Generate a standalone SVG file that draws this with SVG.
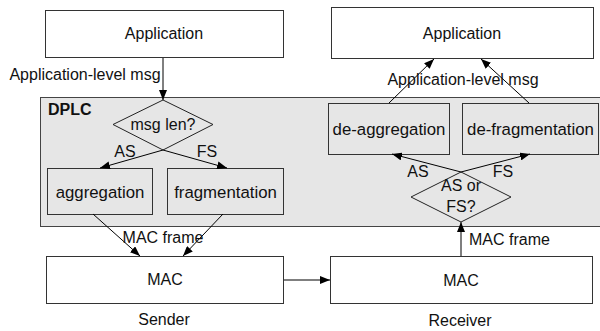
<svg xmlns="http://www.w3.org/2000/svg" width="600" height="331" viewBox="0 0 600 331">
<defs>
<marker id="ah" viewBox="0 0 10 8" refX="10" refY="4" markerWidth="10" markerHeight="8" markerUnits="userSpaceOnUse" orient="auto">
<path d="M0,0 L10,4 L0,8 Z" fill="#000"/>
</marker>
</defs>
<style>
text{font-family:"Liberation Sans",Arial,sans-serif;font-size:16px;fill:#111}
.c{text-anchor:middle}
.ib{font-size:16.8px}
.box{fill:#fff;stroke:#333;stroke-width:1}
.ibox{fill:#e6e6e6;stroke:#333;stroke-width:1}
.dia{fill:#e6e6e6;stroke:#222;stroke-width:1}
.ln{stroke:#000;stroke-width:1;fill:none;marker-end:url(#ah)}
.ln2{stroke:#555;stroke-width:1.5;fill:none;marker-end:url(#ah)}
</style>
<rect width="600" height="331" fill="#fff"/>
<g id="dplc">
<rect x="40.5" y="97.5" width="560" height="129" fill="#e6e6e6" stroke="#444" stroke-width="1"/>
<text x="48" y="115" style="font-weight:bold">DPLC</text>
</g>
<g id="app-sender"><rect class="box" x="45.5" y="10.5" width="238" height="47"/><text class="c" x="164" y="39">Application</text></g>
<g id="app-receiver"><rect class="box" x="331.5" y="7.5" width="262" height="51"/><text class="c" x="462" y="39">Application</text></g>
<g id="msglen"><path class="dia" d="M163,100 L213,124.5 L163,150 L113,124.5 Z"/><text class="c" x="163" y="130">msg len?</text></g>
<g id="aggregation"><rect class="ibox" x="47.5" y="168.5" width="105" height="46"/><text class="c ib" x="100" y="198">aggregation</text></g>
<g id="fragmentation"><rect class="ibox" x="167.5" y="168.5" width="116" height="46"/><text class="c ib" x="225.5" y="198">fragmentation</text></g>
<g id="deaggregation"><rect class="ibox" x="328.5" y="103.5" width="121" height="51"/><text class="c ib" x="389" y="135">de-aggregation</text></g>
<g id="defragmentation"><rect class="ibox" x="462.5" y="103.5" width="136" height="51"/><text class="c ib" x="530.5" y="135">de-fragmentation</text></g>
<g id="asfs"><path class="dia" d="M461,172 L511,197 L461,222 L411,197 Z"/><text class="c" x="461" y="191">AS or</text><text class="c" x="461" y="212">FS?</text></g>
<g id="mac-sender"><rect class="box" x="46.5" y="256.5" width="237" height="47"/><text class="c" x="165" y="285">MAC</text><text class="c" x="164" y="325">Sender</text></g>
<g id="mac-receiver"><rect class="box" x="330.5" y="256.5" width="262" height="47"/><text class="c" x="461" y="286">MAC</text><text class="c" x="460" y="326">Receiver</text></g>
<g id="connectors">
<line class="ln" x1="163" y1="58" x2="163" y2="100"/>
<line class="ln" x1="163" y1="150" x2="100" y2="168"/>
<line class="ln" x1="163" y1="150" x2="227" y2="168"/>
<line class="ln" x1="93" y1="214" x2="140" y2="256"/>
<line class="ln" x1="223" y1="214" x2="183" y2="256"/>
<line class="ln2" x1="284" y1="280" x2="330" y2="280"/>
<line class="ln2" x1="461" y1="256" x2="461" y2="222"/>
<line class="ln" x1="461" y1="172" x2="392" y2="154"/>
<line class="ln" x1="461" y1="172" x2="530" y2="154"/>
<line class="ln" x1="389" y1="103" x2="434" y2="59"/>
<line class="ln" x1="529" y1="103" x2="481" y2="59"/>
</g>
<g id="labels">
<text class="c" x="85" y="80">Application-level msg</text>
<text class="c" x="463" y="85">Application-level msg</text>
<text class="c" x="125" y="157">AS</text>
<text class="c" x="207" y="157">FS</text>
<text class="c" x="418" y="177">AS</text>
<text class="c" x="503" y="177">FS</text>
<text class="c" x="163" y="243">MAC frame</text>
<text x="469" y="245">MAC frame</text>
</g>
</svg>
